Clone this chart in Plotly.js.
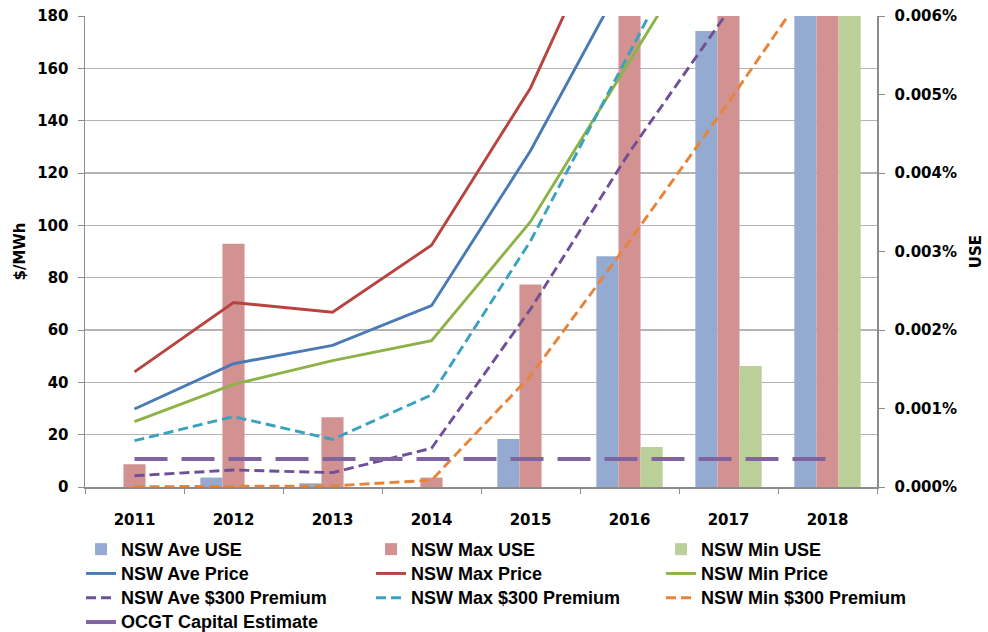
<!DOCTYPE html>
<html>
<head>
<meta charset="utf-8">
<script src="https://cdn.plot.ly/plotly-3.0.1.min.js"></script>
<style>
  html, body { margin: 0; padding: 0; background: #fff; }
  #chart { width: 988px; height: 632px; }
</style>
</head>
<body>
<div id="chart"></div>
<script>
// Categories
const years = ['2011', '2012', '2013', '2014', '2015', '2016', '2017', '2018'];

// Unserved energy (USE, %) — right axis
const aveUSE = [0, 0.00012, 0.000047, 0, 0.00061, 0.00294, 0.00581, 0.0075];
const maxUSE = [0.00029, 0.0031, 0.00089, 0.00012, 0.00258, 0.0068, 0.0085, 0.0095];
const minUSE = [0, 0, 0, 0, 0, 0.00051, 0.00154, 0.0065];

// Prices ($/MWh) — left axis
const avePrice = [29.8, 47.1, 54.1, 69.3, 128.5, 198, 268, 330];
const maxPrice = [44, 70.5, 66.8, 92.4, 152.5, 238, 320, 400];
const minPrice = [25, 39.2, 48.3, 55.9, 101.4, 163, 224, 280];
const avePremium = [4.3, 6.5, 5.5, 14.8, 68, 128, 182, 240];
const maxPremium = [17.7, 26.9, 18.2, 35.2, 94, 167, 240, 310];
const minPremium = [0.1, 0.2, 0.4, 2.6, 42.5, 94, 147, 202];
const ocgtCapital = [10.7, 10.7, 10.7, 10.7, 10.7, 10.7, 10.7, 10.7];

// Legend names
const names = ['NSW Ave USE', 'NSW Max USE', 'NSW Min USE',
               'NSW Ave Price', 'NSW Max Price', 'NSW Min Price',
               'NSW Ave $300 Premium', 'NSW Max $300 Premium', 'NSW Min $300 Premium',
               'OCGT Capital Estimate'];

const FONT = 'DejaVu Sans, Verdana, sans-serif';
const LEGFONT = 'Liberation Sans, Arial, sans-serif';

function lname(i) { return '<span style="font-size:18px">' + names[i] + '</span>'; }

function bar(i, y, color) {
  return { type: 'bar', name: lname(i), x: years, y: y, yaxis: 'y',
           marker: { color: color, line: { width: 0 } }, hoverinfo: 'skip' };
}
function line(i, y, color, dash, width, leg) {
  return { type: 'scatter', mode: 'lines', name: lname(i), x: years, y: y, yaxis: 'y2',
           legend: leg || 'legend',
           line: { color: color, width: width || 2.9, dash: dash || 'solid' }, hoverinfo: 'skip' };
}

const SHORT = '10px,5px';
const traces = [
  bar(0, aveUSE, '#94AAD1'),
  bar(1, maxUSE, '#D29292'),
  bar(2, minUSE, '#BBD099'),
  line(3, avePrice, '#4A7AB5'),
  line(4, maxPrice, '#B8433F'),
  line(5, minPrice, '#8DB348'),
  line(6, avePremium, '#6F5097', SHORT),
  line(7, maxPremium, '#3AA2BE', SHORT),
  line(8, minPremium, '#E8843A', SHORT),
  line(9, ocgtCapital, '#8064A2', '33px,14px', 4, 'legend2')
];

const tickFont = { family: FONT, size: 15, weight: 'bold', color: '#000' };
const legFont = { family: LEGFONT, size: 16.4, weight: 'bold', color: '#000' };

const layout = {
  width: 988, height: 632,
  margin: { l: 85, r: 111, t: 16, b: 145 },
  paper_bgcolor: '#fff', plot_bgcolor: '#fff',
  barmode: 'group', bargap: 0.33, bargroupgap: 0,
  showlegend: true,
  font: { family: FONT, color: '#000' },
  xaxis: {
    type: 'category', range: [-0.5, 7.5],
    showline: true, linecolor: '#8c8c8c', linewidth: 1.5,
    ticks: 'outside', tickson: 'boundaries', ticklen: 5, tickcolor: '#8c8c8c',
    ticklabelstandoff: 18,
    showgrid: false, zeroline: false,
    tickfont: tickFont
  },
  yaxis: {
    side: 'right', range: [0, 0.006], dtick: 0.001, tickformat: '.3f', ticksuffix: '%',
    showline: true, linecolor: '#8c8c8c', linewidth: 1.5,
    ticks: 'outside', ticklen: 6, tickcolor: '#8c8c8c',
    ticklabelstandoff: 7,
    showgrid: false, zeroline: false,
    tickfont: tickFont,
    title: { text: 'USE', standoff: 14, font: tickFont }
  },
  yaxis2: {
    overlaying: 'y', side: 'left', range: [0, 180], dtick: 20,
    showline: true, linecolor: '#8c8c8c', linewidth: 1.5,
    ticks: 'outside', ticklen: 6, tickcolor: '#8c8c8c',
    ticklabelstandoff: 6,
    showgrid: true, gridcolor: '#b4b4b4', gridwidth: 1.5, zeroline: false,
    tickfont: tickFont,
    title: { text: '$/MWh', standoff: 8, font: tickFont }
  },
  legend: {
    orientation: 'h', xref: 'paper', yref: 'paper',
    x: -0.005, xanchor: 'left', y: -0.0955, yanchor: 'top',
    entrywidth: 245, entrywidthmode: 'pixels', itemwidth: 30,
    traceorder: 'normal', tracegroupgap: 0,
    font: legFont, bgcolor: 'rgba(0,0,0,0)'
  },
  legend2: {
    orientation: 'h', xref: 'container', yref: 'container',
    x: 0.082, xanchor: 'left', y: 0.0429, yanchor: 'top',
    itemwidth: 30,
    font: legFont, bgcolor: 'rgba(0,0,0,0)'
  }
};

Plotly.newPlot('chart', traces, layout, { displayModeBar: false, staticPlot: true });
</script>
</body>
</html>
